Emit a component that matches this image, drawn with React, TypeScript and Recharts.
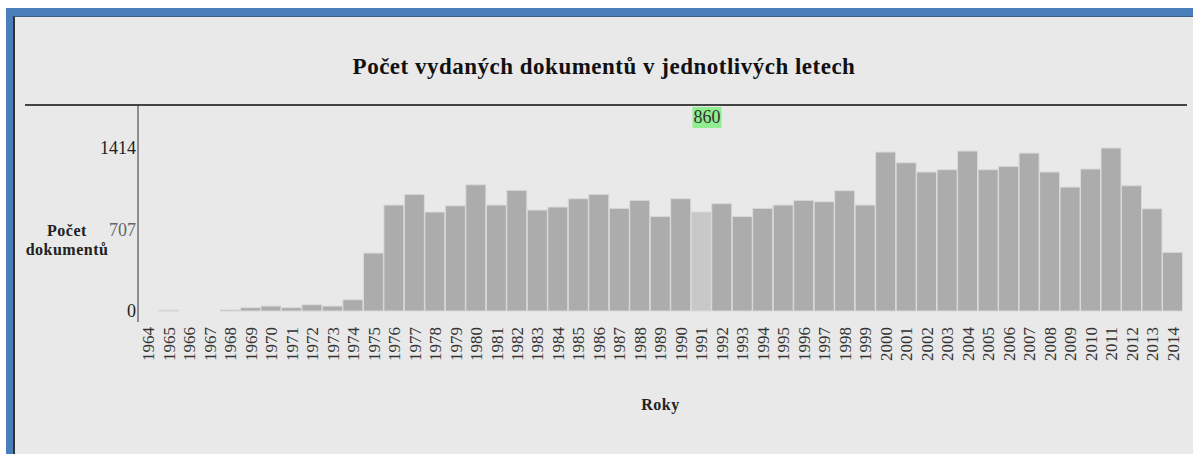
import { BarChart, Bar, XAxis, YAxis, Tooltip, Label } from 'recharts'

const years = [
  '1964', '1965', '1966', '1967', '1968', '1969', '1970', '1971', '1972', '1973',
  '1974', '1975', '1976', '1977', '1978', '1979', '1980', '1981', '1982', '1983',
  '1984', '1985', '1986', '1987', '1988', '1989', '1990', '1991', '1992', '1993',
  '1994', '1995', '1996', '1997', '1998', '1999', '2000', '2001', '2002', '2003',
  '2004', '2005', '2006', '2007', '2008', '2009', '2010', '2011', '2012', '2013',
  '2014',
]
const counts = [
  0, 8, 0, 0, 10, 29, 43, 29, 55, 43,
  98, 503, 919, 1012, 859, 913, 1095, 919, 1047, 876,
  902, 974, 1012, 891, 960, 821, 974, 860, 931, 821,
  891, 919, 960, 948, 1044, 919, 1379, 1286, 1206, 1226,
  1388, 1226, 1255, 1370, 1206, 1075, 1232, 1414, 1087, 887,
  509,
]
const yTicks = [0, 707, 1414]
const highlighted = '1991'

const title = 'Počet vydaných dokumentů v jednotlivých letech'
const yTitle = ['Počet', 'dokumentů']
const xTitle = 'Roky'

const serif = "'Liberation Serif', 'Times New Roman', serif"

const data = years.map((y, i) => ({ year: y, count: counts[i] }))

function YTick({ x, y, payload }: any) {
  return (
    <text x={x} y={y} dy="0.35em" textAnchor="end" fontSize={18} fontFamily={serif}
      fill={payload.value === 707 ? '#666' : '#222'}>
      {payload.value}
    </text>
  )
}

function XTick({ x, y, payload }: any) {
  return (
    <text x={x} y={y} dy="0.35em" textAnchor="end" fontSize={17} fontFamily={serif} fill="#333"
      transform={`rotate(-90, ${x}, ${y})`}>
      {payload.value}
    </text>
  )
}

function GreenTip({ active, payload }: any) {
  if (!active || !payload || !payload.length) return null
  return (
    <div style={{ background: '#90ee90', color: '#333', fontFamily: serif, fontSize: 18, lineHeight: '21px', padding: '0 1px' }}>
      {payload[0].value}
    </div>
  )
}

export default function App() {
  return (
    <div style={{ position: 'absolute', left: 0, top: 0, width: 1193, height: 454, background: '#fff', overflow: 'hidden' }}>
      <div style={{ position: 'absolute', left: 6, top: 8, right: 0, bottom: 0, borderTop: '8px solid #4a7ebb', borderLeft: '7px solid #4a7ebb' }}>
        <div style={{ position: 'absolute', left: 0, top: 0, right: 0, bottom: 0, background: '#e9e9e9', borderTop: '1px solid #3d5f8a', borderLeft: '2px solid #333' }} />
      </div>
      <div style={{ position: 'absolute', left: 15, width: 1178, top: 55, lineHeight: '24px', textAlign: 'center', fontFamily: serif, fontWeight: 'bold', fontSize: 23, letterSpacing: 0.5, color: '#111' }}>
        {title}
      </div>
      <div style={{ position: 'absolute', left: 25, width: 1162, top: 104, borderTop: '2px solid #444' }} />
      <div style={{ position: 'absolute', left: 17, width: 100, top: 221, lineHeight: '19px', textAlign: 'center', fontFamily: serif, fontWeight: 'bold', fontSize: 16, letterSpacing: 0.5, color: '#222' }}>
        {yTitle.map((t) => <div key={t}>{t}</div>)}
      </div>
      <div style={{ position: 'absolute', left: 0, top: 0 }}>
        <BarChart width={1193} height={454} data={data} barCategoryGap={0} barGap={0}
          margin={{ top: 105, right: 10, bottom: 0, left: 0 }}>
          <XAxis dataKey="year" interval={0} axisLine={false} tickLine={false} tickSize={0} tickMargin={5}
            height={132} tick={<XTick />}>
            <Label value={xTitle} position="insideBottom" offset={44} fill="#222" fontWeight="bold" fontSize={16} letterSpacing={0.5} fontFamily={serif} />
          </XAxis>
          <YAxis width={138} domain={[-95, 1787]} ticks={yTicks} interval={0} tickLine={false} tickSize={0} tickMargin={2}
            axisLine={{ stroke: '#333', strokeWidth: 1 }} tick={<YTick />} />
          <Tooltip defaultIndex={years.indexOf(highlighted)} active cursor={false} isAnimationActive={false}
            position={{ y: 107 }} offset={-9} content={<GreenTip />} wrapperStyle={{ outline: 'none' }} />
          <Bar dataKey="count" fill="#acacac" stroke="#dadada" strokeWidth={1} isAnimationActive={false}
            activeBar={{ fill: '#c8c8c8', stroke: '#dadada' }} />
        </BarChart>
      </div>
    </div>
  )
}
